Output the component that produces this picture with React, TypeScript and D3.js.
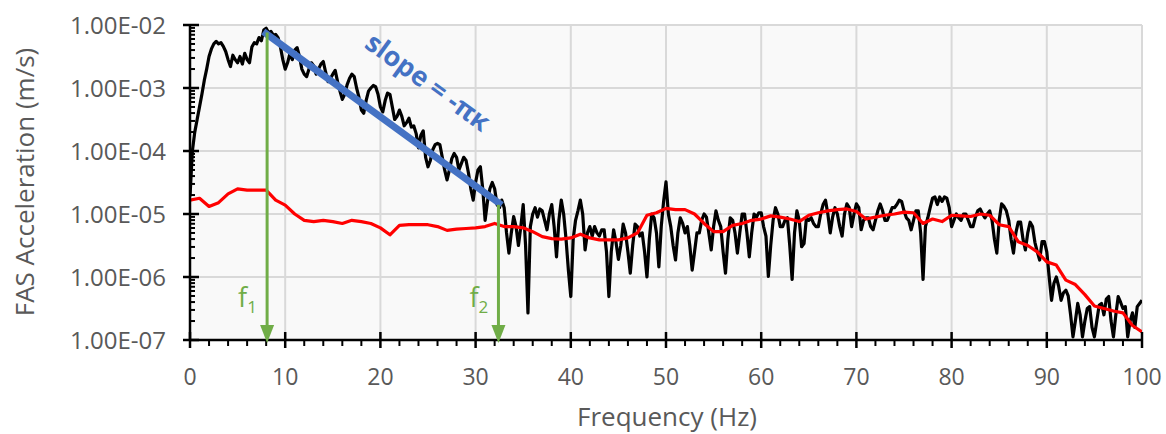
import React from 'react';
import * as d3 from 'd3';

// ---------- data ----------
// Frequency grid for the black (event) spectrum, Hz
const blackFreq: number[] = d3.range(0, 100.0001, 0.25);
// log10 of FAS acceleration (m/s) of the event spectrum, one value per 0.25 Hz
const blackLog10: number[] = [
  -4.72, -4.0, -3.7, -3.5,
  -3.3, -3.1, -2.88, -2.7,
  -2.5, -2.38, -2.3, -2.26,
  -2.3, -2.28, -2.34, -2.42,
  -2.55, -2.66, -2.48, -2.55,
  -2.6, -2.5, -2.62, -2.45,
  -2.55, -2.6, -2.35, -2.28,
  -2.3, -2.2, -2.25, -2.08,
  -2.05, -2.12, -2.1, -2.16,
  -2.15, -2.2, -2.35, -2.55,
  -2.7, -2.6, -2.45, -2.55,
  -2.4, -2.36, -2.5, -2.7,
  -2.78, -2.82, -2.7, -2.6,
  -2.65, -2.78, -2.7, -2.62,
  -2.58, -2.75, -2.9, -2.85,
  -2.78, -2.72, -2.9, -3.05,
  -3.18, -3.1, -2.95, -2.85,
  -2.78, -2.82, -3.0, -3.15,
  -3.35, -3.4, -3.2, -3.05,
  -3.0, -2.96, -2.98, -3.1,
  -3.3, -3.38, -3.2, -3.08,
  -3.1, -3.3, -3.5, -3.45,
  -3.35, -3.45, -3.6, -3.55,
  -3.48, -3.62, -3.6, -3.72,
  -3.95, -3.75, -3.68, -4.1,
  -4.25, -4.15, -3.98, -3.9,
  -3.88, -3.9, -4.1, -4.3,
  -4.46, -4.3, -4.12, -4.04,
  -4.1, -4.3, -4.2, -4.1,
  -4.15, -4.35, -4.6, -4.78,
  -4.5, -4.3, -4.25, -4.6,
  -5.1, -4.8, -4.6, -4.5,
  -4.6, -4.85, -4.9, -4.78,
  -4.9, -5.3, -5.62, -5.3,
  -5.04, -5.2, -5.5, -5.2,
  -4.85, -5.5, -6.57, -5.2,
  -5.0, -4.9, -5.05, -4.92,
  -4.95, -5.1, -5.25, -5.0,
  -4.85, -5.2, -5.68, -5.1,
  -4.78, -5.0, -5.4, -5.9,
  -6.31, -5.4, -5.1, -4.95,
  -4.78, -5.0, -5.57, -5.3,
  -5.2, -5.35, -5.2, -5.3,
  -5.35, -5.25, -5.25, -5.6,
  -6.31, -5.6, -5.25, -5.45,
  -5.72, -5.5, -5.16, -5.3,
  -5.6, -5.94, -5.5, -5.16,
  -5.2, -5.35, -5.3, -5.6,
  -6.0, -5.4, -5.0, -5.06,
  -5.3, -5.84, -5.2, -4.8,
  -4.49, -5.0, -5.2, -5.5,
  -5.73, -5.3, -5.06, -5.15,
  -5.3, -5.2, -5.5, -5.89,
  -5.6, -5.3, -5.3, -5.1,
  -5.0, -5.05, -5.3, -5.57,
  -5.2, -4.95, -5.1, -5.2,
  -5.6, -5.94, -5.4, -5.06,
  -5.1, -5.3, -5.62, -5.3,
  -5.0, -5.0, -5.3, -5.68,
  -5.3, -5.0, -5.05, -4.98,
  -4.98, -5.2, -5.35, -5.99,
  -5.5, -5.1, -4.9, -5.0,
  -5.2, -5.2, -5.1, -5.06,
  -5.5, -6.04, -5.3, -4.95,
  -5.1, -5.52, -5.47, -5.06,
  -5.1, -5.06, -5.15, -5.2,
  -5.2, -5.0, -4.85, -4.78,
  -5.0, -5.3, -5.05, -4.9,
  -5.0, -5.2, -5.35, -5.0,
  -4.84, -4.9, -5.2, -5.0,
  -4.84, -4.9, -5.25, -5.1,
  -5.06, -5.06, -5.2, -5.25,
  -5.1, -4.95, -4.84, -4.95,
  -5.1, -5.1, -5.0, -4.9,
  -4.9, -4.85, -4.78, -4.8,
  -4.95, -5.06, -5.1, -5.25,
  -5.1, -4.95, -4.95, -5.3,
  -6.04, -5.2, -5.06, -4.9,
  -4.75, -4.73, -4.85, -4.73,
  -4.8, -4.73, -4.75, -4.9,
  -5.2, -5.1, -5.0, -5.06,
  -5.1, -5.0, -5.0, -5.1,
  -5.2, -5.2, -5.05, -4.95,
  -4.92, -5.0, -5.06, -5.0,
  -4.95, -5.1, -5.4, -5.62,
  -5.1, -4.84, -4.88, -4.95,
  -5.1, -5.4, -5.62, -5.3,
  -5.13, -5.13, -5.4, -5.57,
  -5.3, -5.13, -5.2, -5.45,
  -5.6, -5.73, -5.44, -5.44,
  -5.6, -6.0, -6.37, -6.1,
  -6.0, -6.15, -6.37, -6.25,
  -6.21, -6.3, -6.6, -6.95,
  -6.7, -6.42, -6.6, -6.95,
  -6.7, -6.5, -6.47, -6.8,
  -6.95, -6.7, -6.45, -6.42,
  -6.6, -6.35, -6.31, -6.7,
  -6.95, -6.6, -6.31, -6.4,
  -6.5, -6.47, -6.95, -6.7,
  -6.57, -6.8, -6.47, -6.42,
  -6.37,
];

// Noise (red) spectrum, one value per 1 Hz, log10 of m/s
const redFreq: number[] = d3.range(0, 100.0001, 1);
const redLog10: number[] = [
  -4.78, -4.75, -4.88, -4.82, -4.68, -4.6, -4.62, -4.62, -4.62, -4.78,
  -4.86, -5.0, -5.1, -5.12, -5.1, -5.12, -5.15, -5.1, -5.12, -5.15,
  -5.22, -5.33, -5.18, -5.17, -5.17, -5.17, -5.2, -5.26, -5.24, -5.23,
  -5.22, -5.2, -5.15, -5.2, -5.2, -5.22, -5.28, -5.36, -5.39, -5.4,
  -5.38, -5.32, -5.38, -5.41, -5.41, -5.41, -5.38, -5.3, -5.02, -4.98,
  -4.91, -4.93, -4.93, -5.0, -5.15, -5.28, -5.28, -5.18, -5.15, -5.1,
  -5.08, -5.03, -5.05, -5.08, -5.12, -5.02, -4.98, -4.95, -4.93, -4.92,
  -4.96, -5.08, -5.05, -5.02, -5.0, -4.97, -4.98, -5.15, -5.08, -5.12,
  -5.02, -5.03, -5.04, -5.0, -5.02, -5.17, -5.2, -5.44, -5.5, -5.6,
  -5.76, -5.81, -6.05, -6.12, -6.28, -6.46, -6.5, -6.54, -6.57, -6.77,
  -6.87,
];

// Slope annotation line endpoints [Hz, m/s]
const slopeLine: [number, number][] = [[7.7, 7.83e-3], [32.74, 1.39e-5]];
// Corner frequency arrows [Hz, top value m/s]
const cornerArrows = [
  { f: 8.1, top: 7.6e-3, label: 'f', sub: '1' },
  { f: 32.4, top: 1.4e-5, label: 'f', sub: '2' },
];

const xTicks = [0, 10, 20, 30, 40, 50, 60, 70, 80, 90, 100];
const yTicks = [1e-7, 1e-6, 1e-5, 1e-4, 1e-3, 1e-2];
const yTickLabels = ['1.00E-07', '1.00E-06', '1.00E-05', '1.00E-04', '1.00E-03', '1.00E-02'];

// ---------- layout ----------
const W = 1166, H = 434;
const L = 190, R = 1142, T = 25, B = 340;
const FONT = '"Open Sans", sans-serif';
const GRAY = '#595959';

export default function App() {
  const x = d3.scaleLinear().domain([0, 100]).range([L, R]);
  const y = d3.scaleLog().domain([1e-7, 1e-2]).range([B, T]);

  const black = blackFreq.map((f, i) => [f, Math.pow(10, blackLog10[i])] as [number, number]);
  const red = redFreq.map((f, i) => [f, Math.pow(10, redLog10[i])] as [number, number]);
  const line = d3.line<[number, number]>().x(d => x(d[0])).y(d => y(d[1]));

  const minorY = y.ticks().filter(v => !yTicks.some(t => Math.abs(t - v) / t < 1e-6));
  const minorX = d3.range(0, 100.0001, 2).filter(v => v % 10 !== 0);

  const angle = Math.atan2(y(slopeLine[1][1]) - y(slopeLine[0][1]), x(slopeLine[1][0]) - x(slopeLine[0][0])) * 180 / Math.PI;

  return (
    <svg width={W} height={H} style={{ position: 'absolute', left: 0, top: 0, background: '#fff' }}>
      <defs>
        <clipPath id="plot"><rect x={L} y={T - 6} width={R - L} height={B - T + 6} /></clipPath>
      </defs>
      <rect x={L} y={T} width={R - L} height={B - T} fill="#f9f9f9" />
      {/* grid */}
      {xTicks.map(t => (
        <line key={'gx' + t} x1={x(t)} x2={x(t)} y1={T} y2={B} stroke="#d9d9d9" strokeWidth={2} />
      ))}
      {yTicks.map(t => (
        <line key={'gy' + t} x1={L} x2={R} y1={y(t)} y2={y(t)} stroke="#d9d9d9" strokeWidth={2} />
      ))}

      {/* series */}
      <g clipPath="url(#plot)">
        <path d={line(black) || ''} fill="none" stroke="#000" strokeWidth={3.2} strokeLinejoin="round" />
        <path d={line(red) || ''} fill="none" stroke="#ff0000" strokeWidth={3.2} strokeLinejoin="round" />
      </g>
      <path d={line(slopeLine) || ''} stroke="#4472c4" strokeWidth={7} fill="none" />

      {/* axes */}
      <line x1={L} x2={L} y1={T} y2={B} stroke="#000" strokeWidth={2.5} />
      <line x1={L} x2={R} y1={B} y2={B} stroke="#000" strokeWidth={2.5} />
      {yTicks.map(t => (
        <line key={'ty' + t} x1={L - 7} x2={L + 9} y1={y(t)} y2={y(t)} stroke="#000" strokeWidth={2.5} />
      ))}
      {minorY.map(t => (
        <line key={'my' + t} x1={L} x2={L + 5} y1={y(t)} y2={y(t)} stroke="#000" strokeWidth={2} />
      ))}
      {xTicks.map(t => (
        <line key={'tx' + t} x1={x(t)} x2={x(t)} y1={B - 8} y2={B + 8} stroke="#000" strokeWidth={2.5} />
      ))}
      {minorX.map(t => (
        <line key={'mx' + t} x1={x(t)} x2={x(t)} y1={B} y2={B + 6} stroke="#000" strokeWidth={2} />
      ))}

      {/* tick labels */}
      {yTicks.map((t, i) => (
        <text key={'ly' + t} x={166} y={y(t)} dy="0.36em" textAnchor="end" fontFamily={FONT} fontSize={24} fill={GRAY}>
          {yTickLabels[i]}
        </text>
      ))}
      {xTicks.map(t => (
        <text key={'lx' + t} x={x(t)} y={385} textAnchor="middle" fontFamily={FONT} fontSize={23} fill={GRAY}>
          {t}
        </text>
      ))}

      {/* axis titles */}
      <text transform={`translate(34,182) rotate(-90)`} textAnchor="middle" fontFamily={FONT} fontSize={26} fill={GRAY}>
        FAS Acceleration (m/s)
      </text>
      <text x={667} y={426} textAnchor="middle" fontFamily={FONT} fontSize={26} fill={GRAY}>
        Frequency (Hz)
      </text>

      {/* corner frequency arrows */}
      {cornerArrows.map(a => {
        const ax = x(a.f);
        const tip = B + 3;
        return (
          <g key={'arr' + a.sub}>
            <line x1={ax} x2={ax} y1={y(a.top)} y2={tip - 14} stroke="#70ad47" strokeWidth={3} />
            <path d={`M${ax - 7},${tip - 18}L${ax + 7},${tip - 18}L${ax},${tip}Z`} fill="#70ad47" />
            <text x={ax - 29} y={307} fontFamily={FONT} fontSize={27} fill="#70ad47">
              {a.label}
              <tspan fontSize={17} dy={6}>{a.sub}</tspan>
            </text>
          </g>
        );
      })}

      {/* slope label */}
      <text
        transform={`translate(428,82) rotate(${angle})`}
        textAnchor="middle"
        dy="0.35em"
        fontFamily={FONT}
        fontWeight="bold"
        fontSize={27}
        fill="#4472c4"
      >
        slope = -πκ
      </text>
    </svg>
  );
}
